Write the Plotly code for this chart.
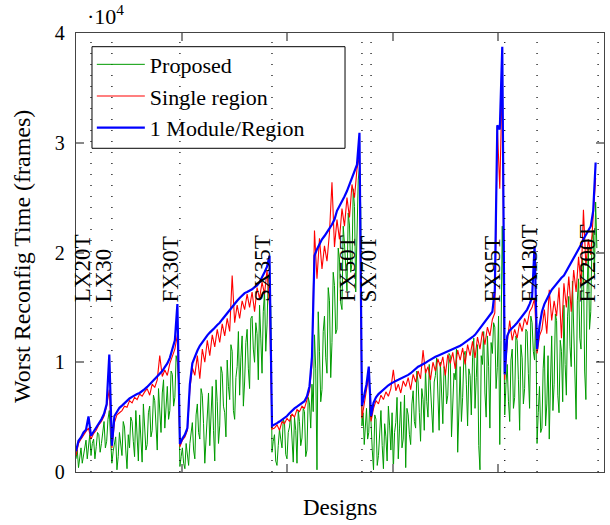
import numpy as np
import plotly.graph_objects as go

# FPGA devices (segments along the design axis) and their end boundaries (design index)
devices = ["LX20T", "LX30", "FX30T", "SX35T", "FX50T", "SX70T", "FX95T", "FX130T", "FX200T"]
bounds = [0, 71, 170, 492, 928, 1354, 1397, 2030, 2183, 2472]

# Values in thousands of frames, per device
blue_LX20T = [1.9, 2.85, 3.15, 3.6, 3.85, 5.06]
red_LX20T = [1.5, 2.6, 3.0, 3.4, 3.7, 4.0]
green_LX20T = [1.2, 2.0, 0.4, 1.6, 2.2, 0.8, 1.5, 2.6, 2.9, 1.2, 2.5, 3.4]

blue_LX30 = [3.3, 3.65, 4.0, 4.4, 4.8, 5.3, 6.2, 10.7]
red_LX30 = [3.0, 3.5, 3.8, 4.3, 4.6, 5.1, 6.0, 7.5]
green_LX30 = [1.5, 2.6, 3.0, 1.2, 2.3, 3.6, 3.4, 1.8, 2.6, 4.0, 4.6, 2.2, 2.8, 4.8, 5.6, 3.0]

blue_FX30T = [2.4, 5.1, 5.5, 5.85, 6.05, 6.3, 6.5, 6.7, 6.85, 7.0, 7.1, 7.2, 7.35, 7.55,
              7.75, 8.0, 8.2, 8.45, 8.65, 8.9, 9.2, 9.55, 9.9, 10.4, 11.1, 12.0, 15.3]
red_FX30T = [2.2, 4.5, 5.2, 5.4, 5.6, 6.0, 5.9, 6.5, 6.3, 6.8, 6.6, 7.1, 6.9, 7.3,
             7.6, 7.0, 8.0, 7.7, 8.4, 10.6, 8.7, 9.3, 8.8, 9.9, 10.5, 11.2, 12.5]
green_FX30T = [0.8, 1.9, 2.4, 3.2, 0.2, 1.4, 3.6, 2.4, 1.5, 4.6, 4.1, 2.0, 0.3, 3.4,
               2.2, 5.0, 4.6, 2.8, 1.4, 5.6, 3.0, 1.0, 5.2, 3.4, 0.9, 6.2, 4.4, 2.0,
               2.5, 5.4, 6.0, 3.2, 3.8, 7.0, 6.5, 4.4, 2.0, 7.6, 5.4, 3.6, 7.2, 8.4,
               4.0, 6.2, 7.8, 4.8, 5.6, 9.2, 8.9, 6.0, 6.8, 10.6, 10.0, 8.2]

blue_SX35T = [2.55, 3.05, 3.4, 4.0, 8.0, 9.9, 10.55, 11.05, 11.5, 11.85, 12.2, 12.45, 12.7,
              12.9, 13.15, 13.4, 13.6, 13.9, 14.2, 14.45, 14.75, 15.05, 15.35, 15.6, 15.85,
              16.05, 16.3, 16.4, 16.5, 16.65, 16.85, 17.0, 17.3, 17.7, 18.2, 18.7, 19.7]
red_SX35T = [2.3, 2.9, 3.2, 3.8, 7.5, 9.5, 8.8, 10.6, 8.5, 11.2, 10.0, 12.0, 10.6, 12.5,
             11.4, 13.0, 11.8, 13.5, 12.4, 14.0, 12.8, 17.9, 13.6, 15.2, 14.0, 15.6, 14.8,
             16.2, 15.0, 16.4, 14.6, 16.8, 15.8, 17.3, 16.2, 18.4, 15.2]
green_SX35T = [0.5, 1.4, 2.2, 0.8, 0.3, 2.6, 1.8, 0.6, 2.6, 3.8, 4.5, 2.0, 1.2, 5.2,
               6.2, 3.6, 3.0, 7.6, 7.0, 4.4, 0.8, 3.0, 5.2, 7.2, 2.4, 5.6, 7.8, 3.8,
               1.0, 8.4, 6.4, 2.6, 4.2, 9.6, 9.0, 6.0, 5.4, 3.2, 10.2, 7.8, 6.6, 11.6,
               11.0, 5.6, 4.8, 8.6, 9.6, 12.8, 7.0, 10.4, 12.4, 6.0, 8.2, 11.8, 13.0, 9.4,
               7.6, 14.0, 14.2, 11.2, 10.0, 13.6, 12.6, 8.4, 15.2, 12.2, 9.0, 14.6, 16.4,
               11.0, 13.4, 17.8, 17.2, 15.0]

blue_FX50T = [4.2, 4.3, 4.45, 4.6, 4.75, 4.95, 5.1, 5.35, 5.6, 5.8, 5.95, 6.1, 6.3, 6.45,
              6.9, 7.8, 10.5, 19.7, 20.3, 20.8, 21.2, 21.5, 21.8, 22.2, 22.55, 23.0, 23.8,
              24.2, 24.6, 25.1, 25.6, 26.2, 26.8, 27.4, 28.0, 30.9]
red_FX50T = [3.9, 4.0, 4.3, 3.8, 4.6, 4.4, 4.9, 4.6, 5.3, 5.0, 5.7, 5.5, 6.0, 5.8, 6.6,
             7.4, 9.8, 22.0, 17.6, 21.3, 18.5, 20.6, 19.2, 21.8, 26.4, 20.5, 23.0, 21.2,
             24.0, 22.4, 25.0, 23.2, 26.2, 25.0, 27.6, 28.8]
green_FX50T = [1.8, 2.8, 3.4, 1.0, 0.6, 2.4, 3.9, 3.0, 2.2, 4.8, 4.5, 1.6, 1.2, 3.6,
               4.1, 5.2, 2.8, 0.9, 5.0, 3.8, 0.8, 5.6, 4.6, 2.4, 3.1, 5.8, 5.5, 1.4,
               2.0, 6.8, 6.3, 4.0, 8.0, 5.5, 12.5, 9.4, 0.2, 14.6, 11.0, 6.4, 7.5, 12.8,
               14.2, 10.4, 9.0, 16.8, 15.6, 8.6, 11.8, 18.2, 17.0, 12.6, 13.0, 20.4, 19.4,
               15.4, 14.8, 22.4, 20.8, 17.8, 16.5, 23.6, 22.5, 18.2, 19.0, 25.8, 24.2,
               16.4, 21.6, 26.6, 27.8, 24.0]

blue_SX70T = [6.0, 7.0, 8.0, 9.6]
red_SX70T = [4.9, 6.4, 7.5, 8.8]
green_SX70T = [4.2, 5.4, 2.5, 4.6, 5.8, 3.0, 3.6, 6.8]

blue_FX95T = [5.1, 6.3, 6.8, 7.1, 7.3, 7.55, 7.75, 7.9, 8.05, 8.2, 8.3, 8.4, 8.5, 8.6, 8.75,
              8.85, 9.0, 9.2, 9.4, 9.6, 9.7, 9.8, 9.95, 10.1, 10.25, 10.35, 10.5, 10.6,
              10.7, 10.8, 10.9, 11.0, 11.05, 11.15, 11.25, 11.4, 11.5, 11.65, 11.8, 11.95,
              12.1, 12.3, 12.5, 12.8, 13.05, 13.35, 13.6, 13.9, 14.2, 14.6, 16.6, 31.6,
              31.2, 38.75]
red_FX95T = [4.6, 5.8, 6.5, 6.2, 7.0, 6.6, 7.3, 6.9, 7.6, 9.3, 7.4, 8.0, 7.2, 8.3, 7.8,
             8.6, 7.5, 8.9, 8.2, 9.2, 8.5, 11.1, 9.0, 9.6, 8.4, 10.0, 9.2, 10.3, 9.6, 10.5,
             8.8, 10.7, 9.9, 10.9, 9.4, 11.1, 10.2, 11.3, 9.8, 11.6, 10.6, 11.9, 10.4,
             12.3, 11.2, 12.8, 11.6, 13.2, 12.4, 13.9, 14.5, 31.5, 25.8, 36.0]
green_FX95T = [3.5, 2.0, 0.2, 5.2, 4.8, 0.6, 1.5, 3.8, 5.6, 2.4, 0.3, 4.4, 3.2, 1.0,
               6.0, 4.2, 2.0, 5.4, 0.1, 3.6, 4.5, 6.8, 1.2, 4.0, 6.4, 2.2, 3.0, 7.0,
               0.4, 5.8, 5.2, 3.4, 2.5, 6.2, 7.4, 4.6, 4.0, 9.2, 8.2, 5.4, 2.8, 7.6,
               6.6, 3.8, 9.4, 6.4, 5.0, 9.8, 7.8, 4.8, 3.6, 8.2, 8.8, 10.4, 6.0, 3.8,
               10.0, 7.4, 4.4, 9.6, 9.2, 6.2, 7.0, 10.8, 10.6, 3.2, 5.6, 9.0, 8.4, 11.2,
               1.8, 6.8, 9.6, 4.6, 6.8, 10.6, 11.0, 8.0, 4.2, 9.4, 8.8, 5.2, 10.4, 12.2,
               5.8, 8.6, 11.6, 2.4, 0.2, 10.6, 9.8, 12.8, 7.2, 5.0, 12.4, 9.6, 4.0, 11.8,
               10.8, 13.6, 13.2, 7.6, 9.5, 14.2, 2.5, 12.0, 22.4, 16.0]

blue_FX130T = [8.9, 12.4, 12.9, 13.1, 13.35, 13.6, 13.9, 14.2, 14.5, 14.8, 15.3, 15.9, 20.6]
red_FX130T = [8.4, 11.8, 13.8, 12.0, 13.0, 12.2, 13.6, 12.8, 14.0, 13.4, 14.6, 15.0, 15.8]
green_FX130T = [5.2, 8.0, 9.8, 6.4, 4.6, 10.2, 11.2, 5.8, 6.8, 12.4, 12.0, 8.4, 3.8, 11.6,
                10.4, 6.2, 7.6, 13.0, 12.8, 9.0, 5.8, 14.2, 13.6, 11.0, 10.2, 14.8]

blue_FX200T = [11.2, 13.3, 14.6, 15.3, 15.8, 16.2, 16.6, 16.9, 17.2, 17.4, 17.7, 17.9, 18.3,
               18.7, 19.0, 19.4, 19.9, 20.3, 20.7, 21.2, 21.6, 22.0, 22.4, 23.8, 28.2]
red_FX200T = [10.8, 12.4, 13.0, 14.8, 12.6, 16.6, 13.8, 15.6, 14.2, 16.8, 12.2, 17.2, 15.0,
              17.8, 14.6, 18.4, 16.4, 19.6, 17.0, 23.9, 18.8, 21.2, 19.8, 23.0, 26.8]
green_FX200T = [2.6, 5.4, 7.8, 3.6, 4.0, 9.4, 11.5, 4.2, 6.2, 10.6, 3.0, 8.2, 12.4, 5.6,
                8.0, 14.4, 13.8, 7.0, 5.4, 12.0, 11.0, 6.4, 15.2, 9.8, 7.0, 14.2, 16.0,
                11.4, 9.6, 17.4, 13.4, 8.8, 4.8, 15.6, 17.6, 12.2, 11.2, 19.4, 18.8, 9.2,
                6.6, 16.6, 20.4, 13.0, 14.6, 21.2, 22.0, 18.0, 24.6, 20.4]

blue_all = [blue_LX20T, blue_LX30, blue_FX30T, blue_SX35T, blue_FX50T, blue_SX70T,
            blue_FX95T, blue_FX130T, blue_FX200T]
red_all = [red_LX20T, red_LX30, red_FX30T, red_SX35T, red_FX50T, red_SX70T,
           red_FX95T, red_FX130T, red_FX200T]
green_all = [green_LX20T, green_LX30, green_FX30T, green_SX35T, green_FX50T, green_SX70T,
             green_FX95T, green_FX130T, green_FX200T]

series_names = ["Proposed", "Single region", "1 Module/Region"]
y_ticks = [0, 10000, 20000, 30000, 40000]
y_tick_text = ["0", "1", "2", "3", "4"]


def build(per_device):
    xs, ys = [], []
    for i in range(len(devices)):
        vals = per_device[i]
        n = len(vals)
        step = (bounds[i + 1] - bounds[i]) / n
        xs.extend(bounds[i] + step * np.arange(n))
        ys.extend(np.array(vals) * 1000)
    return xs, ys


xg, yg = build(green_all)
xr, yr = build(red_all)
xb, yb = build(blue_all)

FONT = "Liberation Serif"
fig = go.Figure()
fig.add_trace(go.Scatter(x=xg, y=yg, mode="lines", name=series_names[0],
                         line=dict(color="rgb(0,155,0)", width=1)))
fig.add_trace(go.Scatter(x=xr, y=yr, mode="lines", name=series_names[1],
                         line=dict(color="rgb(255,0,0)", width=1.1)))
fig.add_trace(go.Scatter(x=xb, y=yb, mode="lines", name=series_names[2],
                         line=dict(color="rgb(0,0,255)", width=2.2)))

# dotted device boundaries
for b in bounds[1:]:
    fig.add_shape(type="line", xref="x", yref="paper", x0=b, x1=b, y0=0, y1=1,
                  line=dict(color="black", width=1.2, dash="1px,10px"), layer="above")

# legend frame
fig.add_shape(type="rect", xref="paper", yref="paper", x0=0.0303, x1=0.5095,
              y0=0.7374, y1=0.9688, line=dict(color="black", width=1),
              fillcolor="rgba(0,0,0,0)", layer="above")

# device labels (right edge of rotated text, in design index)
label_x = [98, 198, 516, 952, 1350, 1452, 2040, 2215, 2490]
for name, lx in zip(devices, label_x):
    fig.add_annotation(x=lx, y=15300, xref="x", yref="y", text=name, showarrow=False,
                       textangle=-90, xanchor="right", yanchor="bottom",
                       font=dict(family=FONT, size=23, color="black"))

fig.add_annotation(x=0.017, y=1.041, xref="paper", yref="paper", text="·10<sup>4</sup>",
                   showarrow=False, xanchor="left", yanchor="middle",
                   font=dict(family=FONT, size=22, color="black"))
fig.add_annotation(x=-0.102, y=0.49, xref="paper", yref="paper",
                   text="Worst Reconfig Time (frames)", showarrow=False, textangle=-90,
                   xanchor="center", yanchor="middle",
                   font=dict(family=FONT, size=24, color="black"))
fig.add_annotation(x=0.5, y=-0.08, xref="paper", yref="paper", text="Designs",
                   showarrow=False, xanchor="center", yanchor="middle",
                   font=dict(family=FONT, size=23, color="black"))

fig.update_layout(
    width=610, height=525,
    margin=dict(l=76, r=6, t=33, b=53),
    paper_bgcolor="white", plot_bgcolor="white",
    showlegend=True,
    legend=dict(x=0.030, y=0.976, xanchor="left", yanchor="top",
                bgcolor="rgba(0,0,0,0)", borderwidth=0,
                font=dict(family=FONT, size=22, color="black"),
                itemwidth=48, tracegroupgap=0),
    xaxis=dict(range=[0, 2500], tickvals=[0, 500, 1000, 1500, 2000, 2500],
               showticklabels=False, ticks="inside", ticklen=8, tickwidth=1.5,
               tickcolor="#888", showline=True, linecolor="#444", linewidth=1.3,
               mirror="ticks", showgrid=False, zeroline=False),
    yaxis=dict(range=[0, 40000], tickvals=y_ticks, ticktext=y_tick_text,
               ticks="inside", ticklen=8, tickwidth=1.5, tickcolor="#888",
               showline=True, linecolor="#444", linewidth=1.3, mirror="ticks",
               showgrid=False, zeroline=False, ticklabelstandoff=6,
               tickfont=dict(family=FONT, size=20, color="black")),
)

fig.write_html("out.html")
